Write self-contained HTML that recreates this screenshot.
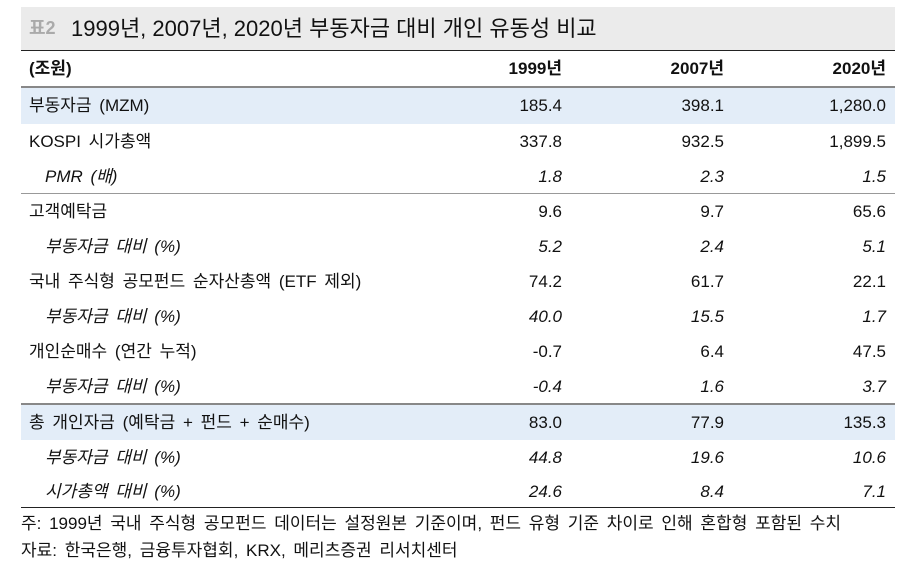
<!DOCTYPE html>
<html><head><meta charset="utf-8"><style>
body{margin:0;width:907px;height:585px;background:#fff;font-family:"Liberation Sans","Noto Sans CJK KR",sans-serif;color:#111;position:relative;overflow:hidden}
.a{position:absolute}
.t{left:21px;top:7px;width:874px;height:43px;background:#ebebeb}
.row{position:absolute;left:21px;width:874px;height:35px;font-size:17px;line-height:35px}
.row span{position:absolute;top:0;white-space:nowrap}
.l{left:8px;word-spacing:3px}.li{left:24px;font-style:italic;word-spacing:3px}
.c1{right:333px}.c2{right:171px}.c3{right:9px}
.i span.c1,.i span.c2,.i span.c3{font-style:italic}
.hl{background:#e3edf8}
.n{left:21px;font-size:17px;white-space:nowrap;line-height:20px;word-spacing:3px}
</style></head><body>
<div class="a t">
<span class="a" style="left:8px;top:0;line-height:43px;font-size:18px;font-weight:bold;color:#aaa">표2</span>
<span class="a" style="left:50px;top:0;line-height:43px;font-size:22px">1999년, 2007년, 2020년 부동자금 대비 개인 유동성 비교</span>
</div>
<div class="a" style="left:21px;top:50px;width:874px;height:1px;background:#222"></div>
<div class="row" style="top:51px;height:36px;line-height:36px;font-weight:bold"><span class="l">(조원)</span><span class="c1">1999년</span><span class="c2">2007년</span><span class="c3">2020년</span></div>
<div class="a" style="left:21px;top:86px;width:874px;height:2px;background:#888"></div>
<div class="row hl" style="top:88px;height:36px;line-height:36px"><span class="l">부동자금 (MZM)</span><span class="c1">185.4</span><span class="c2">398.1</span><span class="c3">1,280.0</span></div>
<div class="row" style="top:124px"><span class="l">KOSPI 시가총액</span><span class="c1">337.8</span><span class="c2">932.5</span><span class="c3">1,899.5</span></div>
<div class="row i" style="top:159px"><span class="li">PMR (배)</span><span class="c1">1.8</span><span class="c2">2.3</span><span class="c3">1.5</span></div>
<div class="a" style="left:21px;top:193px;width:874px;height:1px;background:#999"></div>
<div class="row" style="top:194px"><span class="l">고객예탁금</span><span class="c1">9.6</span><span class="c2">9.7</span><span class="c3">65.6</span></div>
<div class="row i" style="top:229px"><span class="li">부동자금 대비 (%)</span><span class="c1">5.2</span><span class="c2">2.4</span><span class="c3">5.1</span></div>
<div class="row" style="top:264px"><span class="l">국내 주식형 공모펀드 순자산총액 (ETF 제외)</span><span class="c1">74.2</span><span class="c2">61.7</span><span class="c3">22.1</span></div>
<div class="row i" style="top:299px"><span class="li">부동자금 대비 (%)</span><span class="c1">40.0</span><span class="c2">15.5</span><span class="c3">1.7</span></div>
<div class="row" style="top:334px"><span class="l">개인순매수 (연간 누적)</span><span class="c1">-0.7</span><span class="c2">6.4</span><span class="c3">47.5</span></div>
<div class="row i" style="top:369px"><span class="li">부동자금 대비 (%)</span><span class="c1">-0.4</span><span class="c2">1.6</span><span class="c3">3.7</span></div>
<div class="a" style="left:21px;top:403px;width:874px;height:2px;background:#888"></div>
<div class="row hl" style="top:405px"><span class="l">총 개인자금 (예탁금 + 펀드 + 순매수)</span><span class="c1">83.0</span><span class="c2">77.9</span><span class="c3">135.3</span></div>
<div class="row i" style="top:440px"><span class="li">부동자금 대비 (%)</span><span class="c1">44.8</span><span class="c2">19.6</span><span class="c3">10.6</span></div>
<div class="row i" style="top:475px;height:32px;line-height:34px"><span class="li">시가총액 대비 (%)</span><span class="c1">24.6</span><span class="c2">8.4</span><span class="c3">7.1</span></div>
<div class="a" style="left:21px;top:507px;width:874px;height:1px;background:#222"></div>
<div class="a n" style="top:514px">주: 1999년 국내 주식형 공모펀드 데이터는 설정원본 기준이며, 펀드 유형 기준 차이로 인해 혼합형 포함된 수치</div>
<div class="a n" style="top:541px">자료: 한국은행, 금융투자협회, KRX, 메리츠증권 리서치센터</div>
</body></html>
